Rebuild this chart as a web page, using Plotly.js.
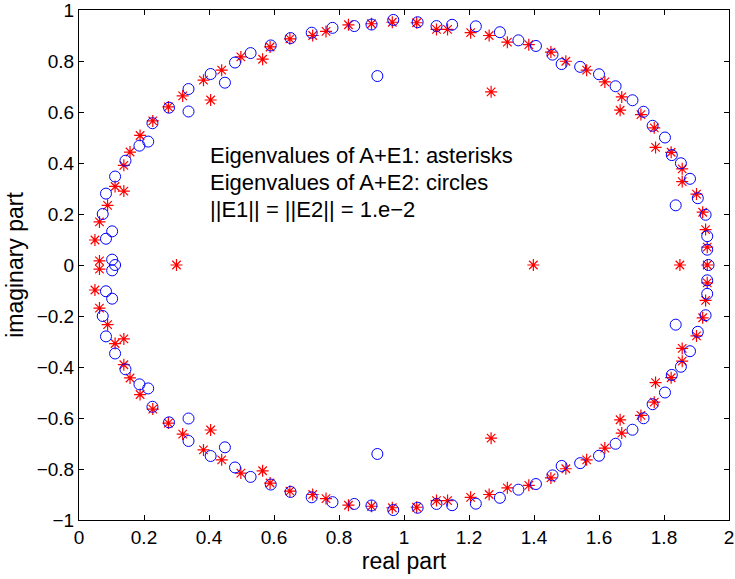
<!DOCTYPE html>
<html>
<head>
<meta charset="utf-8">
<script src="https://cdn.plot.ly/plotly-3.0.1.min.js"></script>
<style>
  html, body { margin: 0; padding: 0; background: #ffffff; }
  #plot { width: 735px; height: 579px; }
</style>
</head>
<body>
<div id="plot"></div>
<script>
// Eigenvalues of A+E1 (drawn as red asterisks): real and imaginary parts
const e1Re = [
  0.049, 0.063, 0.088, 0.111, 0.138, 0.138, 0.157, 0.188, 0.227, 0.275,
  0.319, 0.383, 0.405, 0.439, 0.498, 0.565, 0.588, 0.649, 0.719, 0.760,
  0.829, 0.900, 0.964, 1.039, 1.100, 1.134, 1.205, 1.262, 1.268, 1.318,
  1.384, 1.452, 1.498, 1.562, 1.618, 1.670, 1.665, 1.729, 1.770, 1.774,
  1.822, 1.856, 1.856, 1.900, 1.919, 1.928, 1.933,
  0.063, 0.063, 0.300, 1.398, 1.849, 1.933,
  0.049, 0.063, 0.088, 0.111, 0.138, 0.138, 0.157, 0.188, 0.227, 0.275,
  0.319, 0.383, 0.405, 0.439, 0.498, 0.565, 0.588, 0.649, 0.719, 0.760,
  0.829, 0.900, 0.964, 1.039, 1.100, 1.134, 1.205, 1.262, 1.268, 1.318,
  1.384, 1.452, 1.498, 1.562, 1.618, 1.670, 1.665, 1.729, 1.770, 1.774,
  1.822, 1.856, 1.856, 1.900, 1.919, 1.928, 1.933
];
const e1Im = [
  0.098, 0.169, 0.234, 0.308, 0.290, 0.391, 0.443, 0.508, 0.565, 0.620,
  0.663, 0.725, 0.647, 0.764, 0.816, 0.807, 0.855, 0.887, 0.900, 0.916,
  0.942, 0.946, 0.952, 0.950, 0.924, 0.924, 0.911, 0.900, 0.679, 0.874,
  0.864, 0.835, 0.799, 0.764, 0.718, 0.659, 0.607, 0.590, 0.538, 0.461,
  0.442, 0.377, 0.327, 0.278, 0.207, 0.139, 0.070,
  0.016, -0.016, 0, 0, 0, 0,
  -0.098, -0.169, -0.234, -0.308, -0.290, -0.391, -0.443, -0.508, -0.565, -0.620,
  -0.663, -0.725, -0.647, -0.764, -0.816, -0.807, -0.855, -0.887, -0.900, -0.916,
  -0.942, -0.946, -0.952, -0.950, -0.924, -0.924, -0.911, -0.900, -0.679, -0.874,
  -0.864, -0.835, -0.799, -0.764, -0.718, -0.659, -0.607, -0.590, -0.538, -0.461,
  -0.442, -0.377, -0.327, -0.278, -0.207, -0.139, -0.070
];

// Eigenvalues of A+E2 (drawn as blue circles): real and imaginary parts
const e2Re = [
  0.083, 0.102, 0.073, 0.083, 0.111, 0.143, 0.186, 0.213, 0.226, 0.277,
  0.337, 0.337, 0.405, 0.449, 0.480, 0.528, 0.590, 0.651, 0.716, 0.780,
  0.847, 0.900, 0.918, 0.967, 1.042, 1.100, 1.148, 1.221, 1.295, 1.352,
  1.406, 1.457, 1.485, 1.542, 1.600, 1.651, 1.703, 1.737, 1.765, 1.803,
  1.824, 1.852, 1.880, 1.904, 1.836, 1.928, 1.933, 1.933,
  0.102, 0.111, 0.102, 1.937,
  0.083, 0.102, 0.073, 0.083, 0.111, 0.143, 0.186, 0.213, 0.226, 0.277,
  0.337, 0.337, 0.405, 0.449, 0.480, 0.528, 0.590, 0.651, 0.716, 0.780,
  0.847, 0.900, 0.918, 0.967, 1.042, 1.100, 1.148, 1.221, 1.295, 1.352,
  1.406, 1.457, 1.485, 1.542, 1.600, 1.651, 1.703, 1.737, 1.765, 1.803,
  1.824, 1.852, 1.880, 1.904, 1.836, 1.928, 1.933, 1.933
];
const e2Im = [
  0.103, 0.132, 0.200, 0.280, 0.347, 0.409, 0.468, 0.484, 0.556, 0.617,
  0.690, 0.602, 0.749, 0.715, 0.794, 0.831, 0.861, 0.890, 0.911, 0.930,
  0.937, 0.943, 0.741, 0.961, 0.952, 0.937, 0.942, 0.936, 0.913, 0.881,
  0.859, 0.825, 0.788, 0.777, 0.748, 0.701, 0.646, 0.601, 0.546, 0.500,
  0.431, 0.399, 0.338, 0.262, 0.234, 0.197, 0.113, 0.060,
  0.021, 0, -0.021, 0,
  -0.103, -0.132, -0.200, -0.280, -0.347, -0.409, -0.468, -0.484, -0.556, -0.617,
  -0.690, -0.602, -0.749, -0.715, -0.794, -0.831, -0.861, -0.890, -0.911, -0.930,
  -0.937, -0.943, -0.741, -0.961, -0.952, -0.937, -0.942, -0.936, -0.913, -0.881,
  -0.859, -0.825, -0.788, -0.777, -0.748, -0.701, -0.646, -0.601, -0.546, -0.500,
  -0.431, -0.399, -0.338, -0.262, -0.234, -0.197, -0.113, -0.060
];

// Tick positions and labels
const xTicks = [0, 0.2, 0.4, 0.6, 0.8, 1, 1.2, 1.4, 1.6, 1.8, 2];
const xTickText = ["0", "0.2", "0.4", "0.6", "0.8", "1", "1.2", "1.4", "1.6", "1.8", "2"];
const yTicks = [-1, -0.8, -0.6, -0.4, -0.2, 0, 0.2, 0.4, 0.6, 0.8, 1];
const yTickText = ["\u22121", "\u22120.8", "\u22120.6", "\u22120.4", "\u22120.2", "0",
                   "0.2", "0.4", "0.6", "0.8", "1"];

// Text block inside the axes
const noteLines = [
  "Eigenvalues of A+E1: asterisks",
  "Eigenvalues of A+E2: circles",
  "||E1|| = ||E2|| = 1.e\u22122"
];
const noteX = 0.397;
const noteY = [0.430, 0.323, 0.218];

const FONT = "Liberation Sans, Arial, Helvetica, sans-serif";

const traces = [
  {
    x: e1Re, y: e1Im, type: "scatter", mode: "markers",
    marker: { symbol: "asterisk-open", size: 10, color: "#ff0000",
              line: { color: "#ff0000", width: 1.2 } },
    hoverinfo: "x+y", showlegend: false
  },
  {
    x: e2Re, y: e2Im, type: "scatter", mode: "markers",
    marker: { symbol: "circle-open", size: 11, color: "#0000ff",
              line: { color: "#0000ff", width: 1 } },
    hoverinfo: "x+y", showlegend: false
  }
];

const axisCommon = {
  showgrid: false, zeroline: false,
  showline: true, linecolor: "#000000", linewidth: 1,
  mirror: "ticks", ticks: "inside", ticklen: 5, tickwidth: 1, tickcolor: "#000000",
  tickfont: { family: FONT, size: 19, color: "#000000" },
  tickmode: "array", ticklabeloverflow: "allow"
};

const layout = {
  width: 735, height: 579,
  margin: { l: 79, r: 6, t: 10, b: 59 },
  paper_bgcolor: "#ffffff", plot_bgcolor: "#ffffff",
  font: { family: FONT, color: "#000000" },
  xaxis: Object.assign({}, axisCommon, {
    range: [0, 2], tickvals: xTicks, ticktext: xTickText,
    title: { text: "real part", font: { family: FONT, size: 23 }, standoff: 6 }
  }),
  yaxis: Object.assign({}, axisCommon, {
    range: [-1, 1], tickvals: yTicks, ticktext: yTickText,
    title: { text: "imaginary part", font: { family: FONT, size: 23 }, standoff: 6 }
  }),
  annotations: noteLines.map((t, i) => ({
    x: noteX, y: noteY[i], xref: "x", yref: "y",
    text: t, showarrow: false, xanchor: "left", yanchor: "middle",
    font: { family: FONT, size: 22, color: "#000000" }
  }))
};

Plotly.newPlot("plot", traces, layout, { displayModeBar: false, staticPlot: true });
</script>
</body>
</html>
